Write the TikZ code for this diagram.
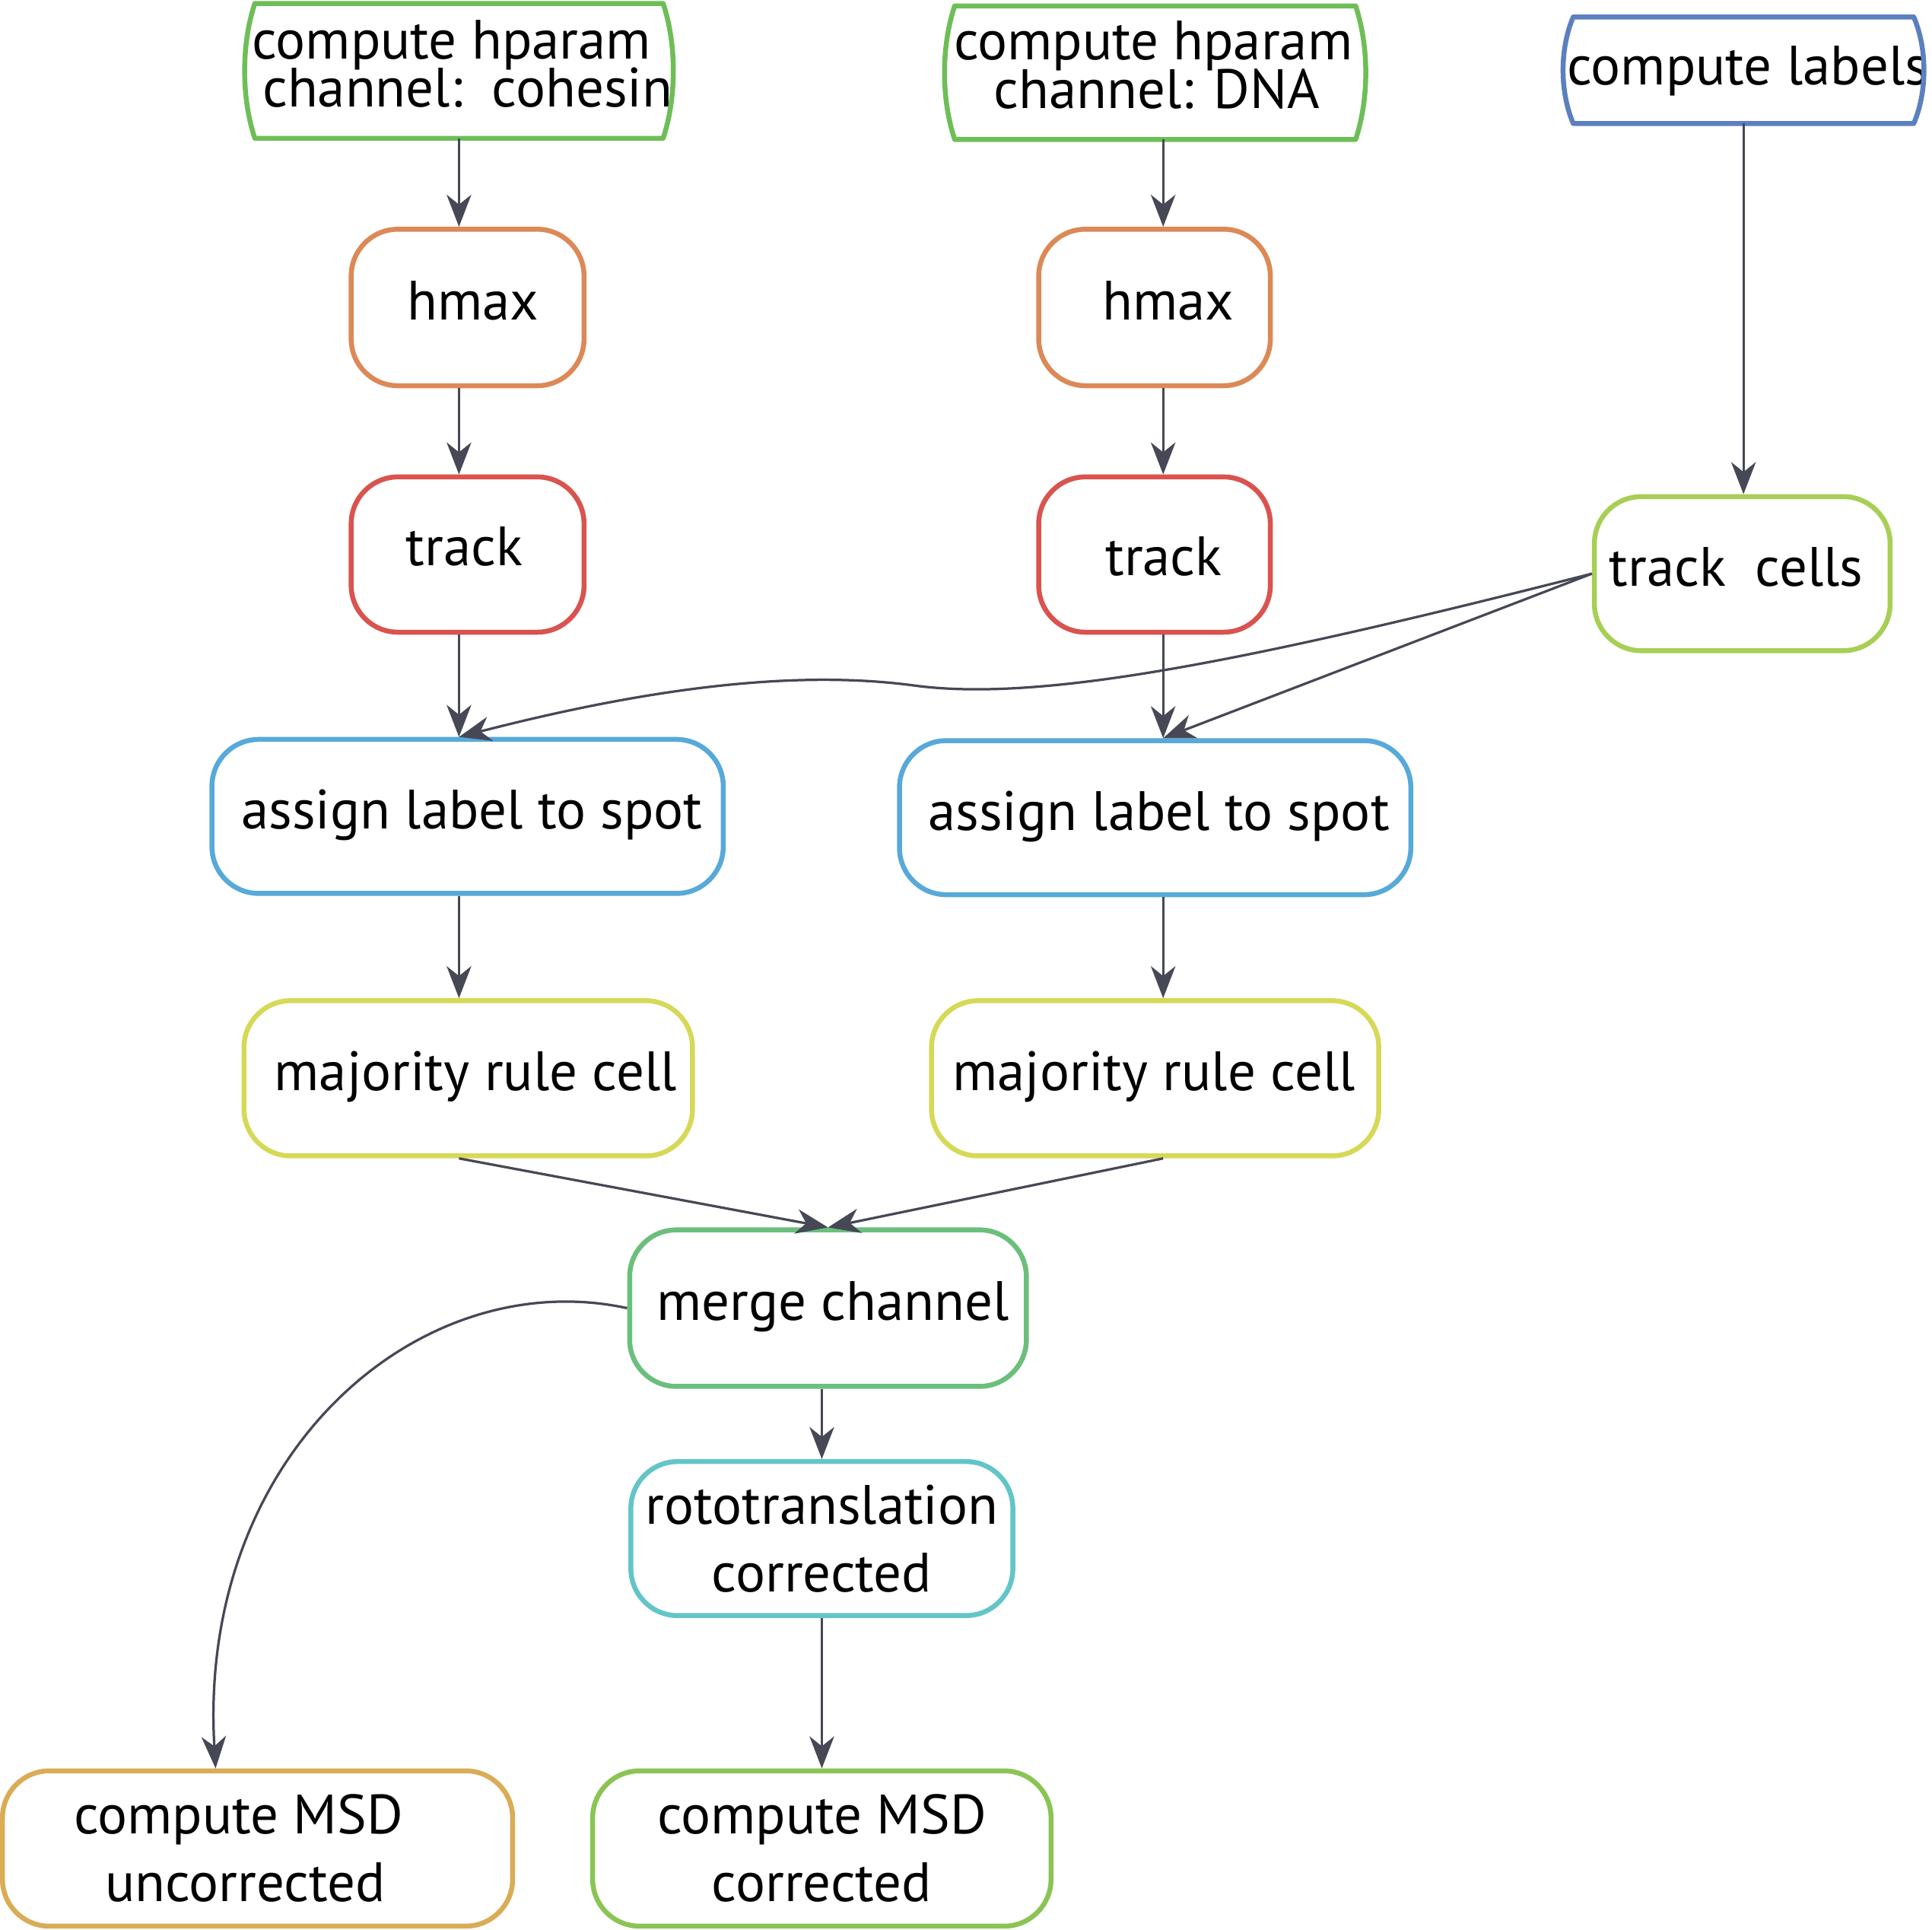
\documentclass[tikz,border=0pt]{standalone}
\usepackage{fontspec}
\setmainfont{PT Sans}
\usetikzlibrary{arrows.meta,calc}
\definecolor{cgreen}{HTML}{6EBE58}
\definecolor{cblue}{HTML}{5B80BF}
\definecolor{corange}{HTML}{DC8957}
\definecolor{cred}{HTML}{D9534F}
\definecolor{ctcells}{HTML}{A7CF55}
\definecolor{cassign}{HTML}{57A9D9}
\definecolor{cmaj}{HTML}{D6D957}
\definecolor{cmerge}{HTML}{6BBF7C}
\definecolor{croto}{HTML}{63C5C7}
\definecolor{cunc}{HTML}{D9AC55}
\definecolor{ccor}{HTML}{8BC454}
\definecolor{cedge}{HTML}{464856}
% centred zero-width text, shifted right by #1 and up by #2
\newcommand{\zo}[3]{\makebox[0pt]{\hspace*{#1}\hspace*{#1}\raisebox{#2}{#3}}}
\newcommand{\zx}[2]{\makebox[0pt]{\hspace*{#1}\hspace*{#1}#2}}
\newcommand{\tightls}{\lineskiplimit -100pt\relax}
% barrel outline for the top nodes
\newcommand{\barrel}[3]{%
  \draw[#2, line width=4pt, line join=round]
    ([xshift=9pt]#1.north west) -- ([xshift=-9pt]#1.north east)
    .. controls ([xshift=2pt,yshift=-#3]#1.north east) and ([xshift=2pt,yshift=#3]#1.south east)
    .. ([xshift=-9pt]#1.south east) -- ([xshift=9pt]#1.south west)
    .. controls ([xshift=-2pt,yshift=#3]#1.south west) and ([xshift=-2pt,yshift=-#3]#1.north west)
    .. cycle;}
\begin{document}
\begin{tikzpicture}[x=1pt,y=-1pt,
  box/.style={draw=#1, line width=4pt, rounded corners=38pt, fill=white,
    inner sep=0pt, align=center, font=\fontsize{45}{55}\selectfont},
  onel/.style={box=#1, text height=34pt, text depth=14pt},
  topbox/.style={draw=none, fill=white, inner sep=0pt, align=center,
    font=\fontsize{45}{39}\selectfont\tightls},
  edge/.style={draw=cedge, line width=2pt,
    -{Stealth[length=26pt,width=20pt,inset=8pt]}}]
\useasboundingbox (0,0) rectangle (1568,1566);
% top row
\node[topbox, minimum width=349pt, minimum height=109pt] (c1) at (372.5,57.5)
  {\zx{-6pt}{compute hparam}\\\zx{7pt}{channel:\ \ cohesin}\rule[-12pt]{0pt}{12pt}};
\barrel{c1}{cgreen}{33pt}
\node[topbox, minimum width=343pt, minimum height=108pt] (c2) at (937.5,59)
  {\zx{-1.5pt}{compute hparam}\\\zx{1.5pt}{channel: DNA}\rule[-13pt]{0pt}{13pt}};
\barrel{c2}{cgreen}{33pt}
\node[topbox, minimum width=294pt, minimum height=86pt, text height=35pt, text depth=11pt] (cl) at (1415,57)
  {\zx{3.5pt}{compute labels}};
\barrel{cl}{cblue}{26pt}
% hmax / track
\node[onel=corange, minimum width=189pt, minimum height=127pt] (h1) at (379.5,249.5) {\zo{4.5pt}{0pt}{hmax}};
\node[onel=corange, minimum width=188pt, minimum height=127pt] (h2) at (937,249.5) {\zo{11pt}{0pt}{hmax}};
\node[onel=cred, minimum width=189pt, minimum height=126pt] (t1) at (379.5,450) {\zo{-2.5pt}{1pt}{track}};
\node[onel=cred, minimum width=188pt, minimum height=126pt] (t2) at (937,450) {\zo{7.5pt}{-7pt}{track}};
\node[onel=ctcells, minimum width=240pt, minimum height=125pt] (tc) at (1414,465.5) {\zo{-5pt}{0pt}{track\ \ cells}};
% assign
\node[onel=cassign, minimum width=415pt, minimum height=125pt] (a1) at (379.5,662.5) {\zo{3.5pt}{0pt}{assign label to spot}};
\node[onel=cassign, minimum width=415pt, minimum height=125pt] (a2) at (937.5,663.5) {\zo{3pt}{0pt}{assign label to spot}};
% majority
\node[onel=cmaj, minimum width=364pt, minimum height=126pt] (m1) at (380,875) {\zo{6pt}{0pt}{majority rule cell}};
\node[onel=cmaj, minimum width=363pt, minimum height=126pt] (m2) at (937.5,875) {\zo{-1pt}{0pt}{majority rule cell}};
% merge etc
\node[onel=cmerge, minimum width=322pt, minimum height=127pt] (mg) at (672,1061.5) {\zo{4pt}{0pt}{merge channel}};
\node[box=croto, minimum width=310pt, minimum height=125pt] (ro) at (667,1248.5) {\zx{0pt}{rototranslation}\\\zx{0pt}{corrected}};
\node[box=cunc, minimum width=414pt, minimum height=126pt] (un) at (209,1500) {\zx{-15.5pt}{compute MSD}\\\zx{-10pt}{uncorrected}};
\node[box=ccor, minimum width=372pt, minimum height=126pt] (co) at (667,1500) {\zx{0pt}{compute MSD}\\\zx{0pt}{corrected}};
% edges
\draw[edge] (c1.south) -- (c1.south |- h1.north);
\draw[edge] (c2.south -| h2.north) ++(7,0) coordinate (e2) -- (e2 |- h2.north);
\draw[edge] (cl.south) -- (cl.south |- tc.north);
\draw[edge] (c1.south |- h1.south) -- (c1.south |- t1.north);
\draw[edge] (e2 |- h2.south) -- (e2 |- t2.north);
\draw[edge] (c1.south |- t1.south) -- (c1.south |- a1.north);
\draw[edge] (e2 |- t2.south) -- (e2 |- a2.north);
\draw[edge] (tc.west) -- (e2 |- a2.north);
\draw[edge] (tc.west) .. controls (1000,540) and (840,570) .. (740,556)
  .. controls (640,543) and (520,560) .. (c1.south |- a1.north);
\draw[edge] (c1.south |- a1.south) -- (c1.south |- m1.north);
\draw[edge] (e2 |- a2.south) -- (e2 |- m2.north);
\draw[edge] (c1.south |- m1.south) -- (mg.north);
\draw[edge] (e2 |- m2.south) -- (mg.north);
\draw[edge] (ro.north |- mg.south) -- (ro.north);
\draw[edge] (ro.south) -- (co.north);
\draw[edge] (mg.west) .. controls (340,1025) and (160,1180) .. ([xshift=-34pt]un.north);
\end{tikzpicture}
\end{document}
